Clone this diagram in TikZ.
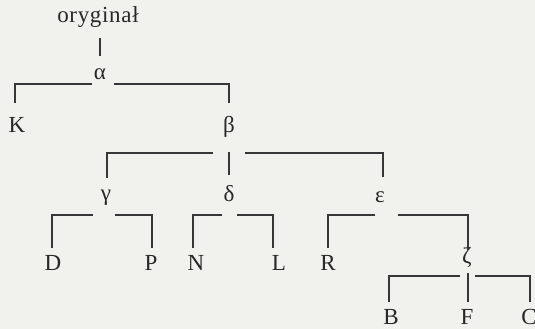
\documentclass[tikz,border=0pt]{standalone}
\usepackage{fontspec}
\setmainfont{Liberation Serif}
\newfontfamily\spacedserif[LetterSpace=3]{Liberation Serif}
\definecolor{paper}{RGB}{241,241,237}
\definecolor{ink}{RGB}{40,40,40}
\definecolor{rule}{RGB}{55,55,55}
\tikzset{
  lbl/.style={inner sep=0pt, anchor=base, text=ink, font=\fontsize{23}{27}\selectfont},
  branch/.style={draw=rule, line width=1.3pt}
}
\begin{document}
\begin{tikzpicture}[x=1pt,y=-1pt]
\fill[paper] (0,0) rectangle (535,329);
\useasboundingbox (0,0) rectangle (535,329);

% labels of the tree
\node[lbl, font=\spacedserif\fontsize{23}{27}\selectfont] (orig) at (98,23) {oryginał};
\node[lbl] (alpha) at (100,79) {α};
\node[lbl] (K) at (17,132) {K};
\node[lbl] (beta) at (229,132) {β};
\node[lbl] (gamma) at (106,200) {γ};
\node[lbl] (delta) at (229,201) {δ};
\node[lbl] (eps) at (380,202) {ε};
\node[lbl] (D) at (53,270) {D};
\node[lbl] (P) at (151,270) {P};
\node[lbl] (N) at (196,270) {N};
\node[lbl] (L) at (279,270) {L};
\node[lbl] (R) at (328,270) {R};
\node[lbl] (zeta) at (467,263) {ζ};
\node[lbl] (B) at (391,324) {B};
\node[lbl] (F) at (467,324) {F};
\node[lbl] (C) at (529,324) {C};

% bar ends and drop points
\coordinate (o1) at (100,38);   \coordinate (o2) at (100,56);
\coordinate (aL) at (92,84);    \coordinate (aR) at (114,84);
\coordinate (Kt) at (15,103);   \coordinate (bt) at (229,103);
\coordinate (bL) at (213,153);  \coordinate (bR) at (245,153);
\coordinate (bM) at (229,152);
\coordinate (gt) at (107,178);  \coordinate (dt) at (229,175);  \coordinate (et) at (383,177);
\coordinate (gL) at (93,215);   \coordinate (gR) at (115,215);
\coordinate (Dt) at (52,248);   \coordinate (Pt) at (152,248);
\coordinate (dL) at (222,215);  \coordinate (dR) at (237,215);
\coordinate (Nt) at (193,248);  \coordinate (Lt) at (273,248);
\coordinate (eL) at (375,215);  \coordinate (eR) at (398,215);
\coordinate (Rt) at (328,248);  \coordinate (zt) at (468,250);
\coordinate (zL) at (460,276);  \coordinate (zR) at (475,276);
\coordinate (zM) at (468,273);
\coordinate (Bt) at (389,302);  \coordinate (Ft) at (468,302);  \coordinate (Ct) at (530,302);

% connectors
\draw[branch] (o1) -- (o2);
\draw[branch] (aL) -| (Kt);
\draw[branch] (aR) -| (bt);
\draw[branch] (bL) -| (gt);
\draw[branch] (bM) -- (dt);
\draw[branch] (bR) -| (et);
\draw[branch] (gL) -| (Dt);
\draw[branch] (gR) -| (Pt);
\draw[branch] (dL) -| (Nt);
\draw[branch] (dR) -| (Lt);
\draw[branch] (eL) -| (Rt);
\draw[branch] (eR) -| (zt);
\draw[branch] (zL) -| (Bt);
\draw[branch] (zM) -- (Ft);
\draw[branch] (zR) -| (Ct);
\end{tikzpicture}
\end{document}
